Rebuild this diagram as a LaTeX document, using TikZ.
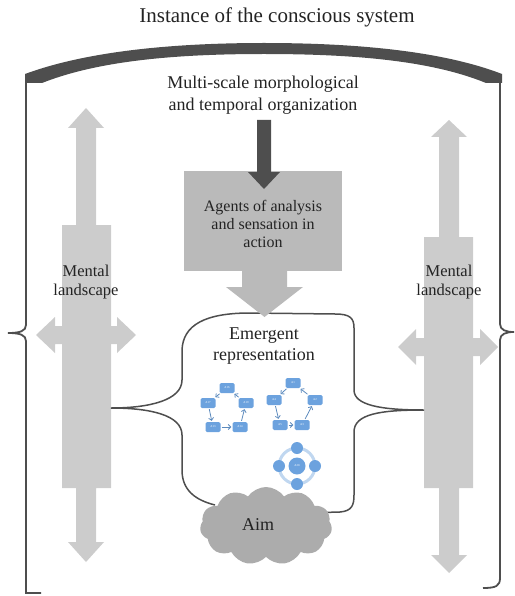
\documentclass[tikz,border=0pt]{standalone}
\usepackage{fontspec}
\setmainfont{Liberation Serif}
\usetikzlibrary{shapes.symbols,arrows.meta}
\definecolor{barcol}{RGB}{78,78,78}
\definecolor{lightarrow}{RGB}{204,204,204}
\definecolor{boxgray}{RGB}{186,186,186}
\definecolor{cloudgray}{RGB}{172,172,172}
\definecolor{agentblue}{RGB}{108,162,222}
\definecolor{ringblue}{RGB}{192,215,240}
\definecolor{txtcol}{RGB}{35,35,35}
\begin{document}
\begin{tikzpicture}[x=1pt, y=-1pt,
    frame/.style={draw=barcol, line width=1.8pt},
    bigarrow/.style={fill=lightarrow},
    txt/.style={align=center, inner sep=0pt, text=txtcol},
    agent/.style={fill=agentblue, rounded corners=1.5pt, minimum width=15pt, minimum height=10pt,
      inner sep=0pt, text=white, font=\fontsize{3}{3}\selectfont},
    knot/.style={circle, fill=agentblue, minimum size=12pt, inner sep=0pt, text=white,
      font=\fontsize{3}{3}\selectfont},
    flow/.style={draw=agentblue!85!black, line width=0.8pt,
      -{Straight Barb[length=2.5pt,width=5pt]}, shorten >=1pt, shorten <=1pt}]
  \useasboundingbox (0,0) rectangle (514,596);

  \node[txt, font=\fontsize{21}{25}\selectfont, anchor=base] (title) at (277,23) {Instance of the conscious system};

  % outer bracket
  \fill[barcol] (25,74) .. controls (90,50) and (180,43) .. (264,43) .. controls (350,43) and (440,50) .. (502,74)
    -- (502,83) -- (486,83) .. controls (430,60) and (350,54) .. (264,54) .. controls (180,54) and (100,60) .. (42,83)
    -- (25,83) -- cycle;
  \draw[frame] (26,80) -- (26,325) .. controls (26,331) and (20,333) .. (8,333)
    .. controls (20,333) and (26,335) .. (26,341) -- (26,593) -- (41,593);
  \draw[frame] (500,80) -- (500,324) .. controls (500,330) and (506,332) .. (514,332)
    .. controls (506,332) and (500,334) .. (500,340) -- (500,578) .. controls (500,586) and (496,588) .. (483,588);

  % mental landscapes
  \fill[bigarrow] (86,108) -- (104,128) -- (96,128) -- (96,225) -- (111,225) -- (111,488) -- (96,488) -- (96,542)
    -- (104,542) -- (86,562) -- (68,542) -- (76,542) -- (76,488) -- (62,488) -- (62,225) -- (76,225) -- (76,128)
    -- (68,128) -- cycle;
  \fill[bigarrow] (36,335) -- (55,317) -- (55,326) -- (117,326) -- (117,317) -- (136,335) -- (117,353) -- (117,344)
    -- (55,344) -- (55,353) -- cycle;
  \fill[bigarrow] (449,120) -- (467,137) -- (459,137) -- (459,237) -- (473,237) -- (473,488) -- (459,488) -- (459,555)
    -- (467,555) -- (449,573) -- (431,555) -- (439,555) -- (439,488) -- (424,488) -- (424,237) -- (439,237) -- (439,137)
    -- (431,137) -- cycle;
  \fill[bigarrow] (398,347) -- (416,329) -- (416,338) -- (480,338) -- (480,329) -- (498,347) -- (480,365) -- (480,356)
    -- (416,356) -- (416,365) -- cycle;
  \node[txt, font=\fontsize{16.5}{19}\selectfont] (mentalL) at (86,282) {Mental\\landscape};
  \node[txt, font=\fontsize{16.5}{19}\selectfont] (mentalR) at (449,282) {Mental\\landscape};

  \node[txt, font=\fontsize{18}{22}\selectfont] (multi) at (263,95) {Multi-scale morphological\\and temporal organization};
  \node[fill=boxgray, minimum width=158pt, minimum height=100pt, inner sep=0pt] (agents) at (263,221) {};
  \node[txt, font=\fontsize{16}{18}\selectfont] (agentstxt) at (263,224) {Agents of analysis\\and sensation in\\action};
  \fill[barcol] (257,120) -- (271,120) -- (271,172) -- (280,172) -- (264,189) -- (248,172) -- (257,172) -- cycle;

  % emergent representation
  \draw[barcol, line width=1.5pt] (305,513) -- (340,512) .. controls (352,511) and (354,505) .. (354,495) -- (354,432)
    .. controls (354,414) and (380,410) .. (424,410) .. controls (380,410) and (354,405) .. (354,390) -- (354,328)
    .. controls (354,318) and (350,314) .. (335,314) -- (250,313) .. controls (205,313) and (183,325) .. (182,350)
    -- (182,380) .. controls (182,400) and (150,408) .. (111,408) .. controls (150,408) and (182,415) .. (182,435)
    -- (182,470) .. controls (182,490) and (195,500) .. (215,505);
  \fill[boxgray] (242,270) -- (287,270) -- (287,287) -- (303,287) -- (264.5,317) -- (226,287) -- (242,287) -- cycle;
  \node[txt, font=\fontsize{18}{21}\selectfont] (emergent) at (264,346) {Emergent\\representation};

  \node[agent] (a16) at (227,388) {A16};
  \node[agent] (a17) at (208,403) {A17};
  \node[agent] (a19) at (246,403) {A19};
  \node[agent] (a13) at (213,427) {A13};
  \node[agent] (a14) at (240,427) {A14};
  \draw[flow] (a16) -- (a17);
  \draw[flow] (a17) -- (a13);
  \draw[flow] (a13) -- (a14);
  \draw[flow] (a14) -- (a19);
  \draw[flow] (a19) -- (a16);

  \node[agent] (a1) at (293,383) {A1};
  \node[agent] (a4) at (274,400) {A4};
  \node[agent] (a2) at (315,400) {A2};
  \node[agent] (a5) at (280,425) {A5};
  \node[agent] (a3) at (302,425) {A3};
  \draw[flow] (a1) -- (a4);
  \draw[flow] (a4) -- (a5);
  \draw[flow] (a5) -- (a3);
  \draw[flow] (a3) -- (a2);
  \draw[flow] (a2) -- (a1);

  \draw[ringblue, line width=3pt] (297,466) circle [radius=18];
  \node[knot, minimum size=17pt] (a20) at (297,466) {A20};
  \node[knot] (kt) at (297,448) {};
  \node[knot] (kl) at (279,466) {};
  \node[knot] (kr) at (315,466) {};
  \node[knot] (kb) at (297,484) {};

  \node[cloud, cloud puffs=11, cloud puff arc=110, cloud ignores aspect, fill=cloudgray, inner sep=0pt,
    minimum width=132pt, minimum height=78pt] (aim) at (266,526) {};
  \node[txt, font=\fontsize{18}{21}\selectfont] (aimtxt) at (258,525) {Aim};
\end{tikzpicture}
\end{document}
